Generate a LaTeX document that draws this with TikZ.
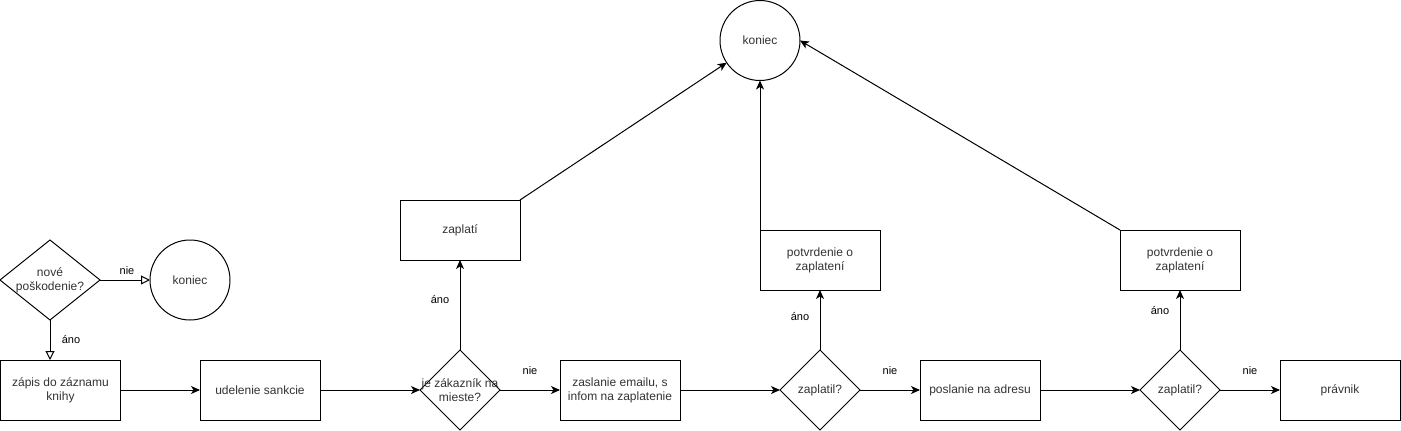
\documentclass[tikz,border=0pt]{standalone}
\usepackage{fontspec}
\setmainfont{Liberation Sans}
\usetikzlibrary{shapes.geometric,arrows.meta}
\tikzset{
  every node/.style={inner sep=0pt, outer sep=0pt, text=black!80},
  boxnode/.style={draw, line width=1pt, rectangle, minimum width=120pt, minimum height=60pt, align=center, font=\fontsize{12}{14}\selectfont},
  endnode/.style={draw, line width=1pt, circle, minimum size=80pt, font=\fontsize{12}{14}\selectfont},
  decnode/.style={draw, line width=1pt, diamond, minimum width=80pt, minimum height=80pt},
  dectext/.style={label={[align=center, font=\fontsize{12}{14}\selectfont, text=black!80]center:#1}},
  flow/.style={line width=1pt, -{Stealth[length=9pt, width=8pt, inset=2.5pt]}},
  openflow/.style={line width=1pt, -{Triangle[open, length=9pt, width=9pt]}},
  lbl/.style={font=\fontsize{11}{13}\selectfont, text=black},
}
\begin{document}
\begin{tikzpicture}[x=1pt, y=-1pt]
\fill[white] (0,0) rectangle (1401,431);
\useasboundingbox (0,0) rectangle (1401,431);
% nodes
\node[decnode, minimum width=100pt, dectext={nové\\poškodenie?}] (d1) at (50,280) {};
\node[endnode] (k1) at (190,280) {koniec};
\node[boxnode] (zapis) at (60.5,390) {zápis do záznamu\\knihy};
\node[boxnode] (udel) at (260,390) {udelenie sankcie};
\node[decnode, dectext={je zákazník na\\mieste?}] (dz) at (460,390) {};
\node[boxnode] (zaplati) at (460,230) {zaplatí};
\node[boxnode] (email) at (620,390) {zaslanie emailu, s\\infom na zaplatenie};
\node[decnode, dectext={zaplatil?}] (zp1) at (820,390) {};
\node[boxnode] (potv1) at (820,260) {potvrdenie o\\zaplatení};
\node[boxnode] (posl) at (980,390) {poslanie na adresu};
\node[decnode, dectext={zaplatil?}] (zp2) at (1180,390) {};
\node[boxnode] (potv2) at (1180,260) {potvrdenie o\\zaplatení};
\node[boxnode] (prav) at (1340,390) {právnik};
\node[endnode] (k2) at (760,40.5) {koniec};
% connectors
\draw[openflow] (d1.east) -- (k1.west) node[lbl, pos=0.54, yshift=9pt] {nie};
\draw[openflow] (d1.south) -- (zapis.north -| d1.south) node[lbl, midway, xshift=21pt] {áno};
\draw[flow] (zapis.east) -- (udel.west);
\draw[flow] (udel.east) -- (dz.west);
\draw[flow] (dz.north) -- (zaplati.south) node[lbl, pos=0.556, xshift=-20pt] {áno};
\draw[flow] (dz.east) -- (email.west) node[lbl, midway, yshift=19pt] {nie};
\draw[flow] (email.east) -- (zp1.west);
\draw[flow] (zp1.north) -- (potv1.south) node[lbl, pos=0.55, xshift=-20pt] {áno};
\draw[flow] (zp1.east) -- (posl.west) node[lbl, midway, yshift=19pt] {nie};
\draw[flow] (posl.east) -- (zp2.west);
\draw[flow] (zp2.north) -- (potv2.south) node[lbl, pos=0.65, xshift=-20pt] {áno};
\draw[flow] (zp2.east) -- (prav.west) node[lbl, midway, yshift=19pt] {nie};
\draw[flow] (zaplati.north east) -- (k2);
\draw[flow] (potv1.north west) -- (k2.south);
\draw[flow] (potv2.north west) -- (k2.east);
\end{tikzpicture}
\end{document}
